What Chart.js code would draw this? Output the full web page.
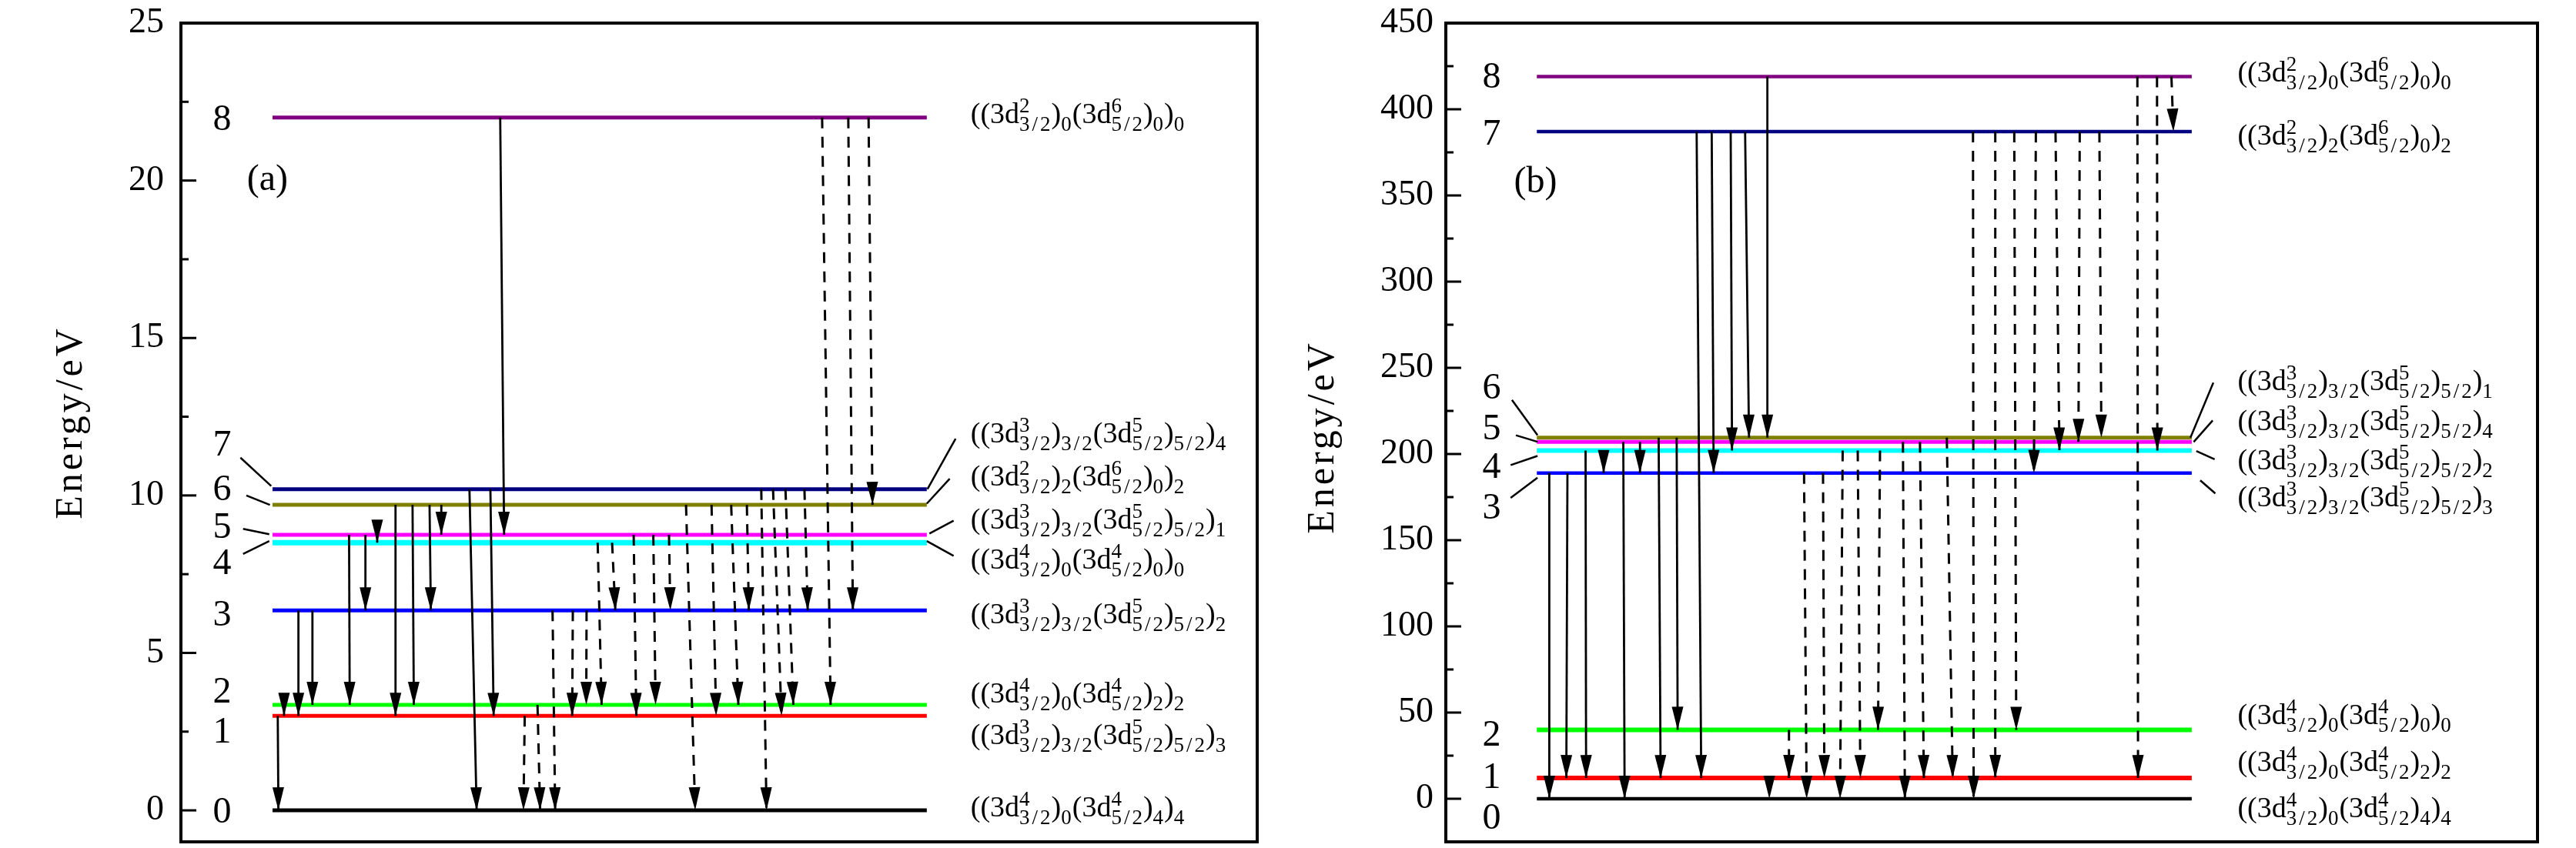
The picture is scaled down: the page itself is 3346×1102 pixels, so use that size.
<!DOCTYPE html>
<html>
<head>
<meta charset="utf-8">
<script src="https://cdn.jsdelivr.net/npm/chart.js@4.4.1/dist/chart.umd.min.js"></script>
<style>
  html, body { margin: 0; padding: 0; background: #fff; }
  #wrap { position: relative; width: 3346px; height: 1102px; }
  canvas { position: absolute; top: 0; }
</style>
</head>
<body>
<div id="wrap">
  <canvas id="panelA" width="1673" height="1102" style="left:0"></canvas>
  <canvas id="panelB" width="1673" height="1102" style="left:1673px"></canvas>
</div>
<script>
// level colours, index = level number 0..8
const levelColors = ['#000000', '#ff0000', '#00ff00', '#0000ff', '#00ffff', '#ff00ff', '#808000', '#000080', '#800080'];

// ---- panel (a) ----
const energyA = [0, 3.0, 3.35, 6.35, 8.5, 8.75, 9.7, 10.2, 22.0];
const stateA = [
  '((3d^{4}_{3/2})_{0}(3d^{4}_{5/2})_{4})_{4}',
  '((3d^{3}_{3/2})_{3/2}(3d^{5}_{5/2})_{5/2})_{3}',
  '((3d^{4}_{3/2})_{0}(3d^{4}_{5/2})_{2})_{2}',
  '((3d^{3}_{3/2})_{3/2}(3d^{5}_{5/2})_{5/2})_{2}',
  '((3d^{4}_{3/2})_{0}(3d^{4}_{5/2})_{0})_{0}',
  '((3d^{3}_{3/2})_{3/2}(3d^{5}_{5/2})_{5/2})_{1}',
  '((3d^{2}_{3/2})_{2}(3d^{6}_{5/2})_{0})_{2}',
  '((3d^{3}_{3/2})_{3/2}(3d^{5}_{5/2})_{5/2})_{4}',
  '((3d^{2}_{3/2})_{0}(3d^{6}_{5/2})_{0})_{0}'
];
// transitions: [from level, to level, x at start, x at end]
const solidA = [
  [2, 1, 1.76, 1.76], [1, 0, 0.8, 0.9], [3, 1, 3.96, 3.96], [3, 2, 6.1, 6.1],
  [5, 2, 11.7, 11.8], [5, 3, 14.2, 14.2], [5, 4, 16.0, 16.0], [6, 1, 18.8, 18.8],
  [6, 2, 21.4, 21.6], [6, 3, 24.0, 24.2], [6, 5, 25.8, 25.8], [7, 0, 30.1, 31.2],
  [7, 1, 33.3, 33.8], [8, 5, 34.8, 35.4]
];
const dashedA = [
  [1, 0, 38.55, 38.35], [2, 0, 40.5, 40.9], [3, 0, 42.8, 43.2], [3, 1, 45.9, 45.8],
  [3, 2, 48.0, 47.95], [4, 2, 49.7, 50.3], [4, 3, 51.9, 52.4], [5, 1, 55.2, 55.6],
  [5, 2, 58.2, 58.55], [5, 3, 60.6, 60.8], [6, 0, 63.2, 64.6], [6, 1, 67.1, 67.8],
  [6, 2, 70.1, 71.2], [6, 3, 72.5, 72.8], [7, 0, 74.7, 75.5], [7, 1, 76.5, 77.8],
  [7, 2, 78.4, 79.6], [7, 3, 81.3, 81.8], [8, 2, 84.0, 85.3], [8, 3, 88.0, 88.7],
  [8, 6, 91.1, 91.7]
];
const tickA = [0, 5, 10, 15, 20, 25];
const minorA = [2.5, 7.5, 12.5, 17.5, 22.5];

// ---- panel (b) ----
const energyB = [0, 12, 40, 189, 202, 207, 209.5, 387, 419];
const stateB = [
  '((3d^{4}_{3/2})_{0}(3d^{4}_{5/2})_{4})_{4}',
  '((3d^{4}_{3/2})_{0}(3d^{4}_{5/2})_{2})_{2}',
  '((3d^{4}_{3/2})_{0}(3d^{4}_{5/2})_{0})_{0}',
  '((3d^{3}_{3/2})_{3/2}(3d^{5}_{5/2})_{5/2})_{3}',
  '((3d^{3}_{3/2})_{3/2}(3d^{5}_{5/2})_{5/2})_{2}',
  '((3d^{3}_{3/2})_{3/2}(3d^{5}_{5/2})_{5/2})_{4}',
  '((3d^{3}_{3/2})_{3/2}(3d^{5}_{5/2})_{5/2})_{1}',
  '((3d^{2}_{3/2})_{2}(3d^{6}_{5/2})_{0})_{2}',
  '((3d^{2}_{3/2})_{0}(3d^{6}_{5/2})_{0})_{0}'
];
const solidB = [
  [3, 0, 1.9, 1.9], [3, 1, 4.67, 4.5], [4, 1, 7.44, 7.52], [4, 3, 10.2, 10.2],
  [5, 0, 13.2, 13.4], [5, 3, 15.75, 15.75], [6, 1, 18.6, 18.9], [6, 2, 21.35, 21.5],
  [7, 1, 24.4, 25.1], [7, 3, 26.7, 27.0], [7, 4, 29.6, 29.8], [7, 6, 31.8, 32.4],
  [8, 6, 35.2, 35.2]
];
const dashedB = [
  [1, 0, 35.5, 35.5], [2, 1, 38.5, 38.5], [3, 0, 40.8, 41.2], [3, 1, 43.7, 43.9],
  [4, 0, 46.7, 46.3], [4, 1, 49.0, 49.4], [4, 2, 52.4, 52.1], [5, 0, 55.9, 56.2],
  [5, 1, 58.5, 59.1], [6, 1, 62.6, 63.5], [7, 0, 66.6, 66.7], [7, 1, 70.0, 70.0],
  [7, 2, 72.9, 73.2], [7, 3, 76.2, 75.9], [7, 4, 79.2, 79.8], [7, 5, 82.9, 82.7],
  [7, 6, 85.9, 86.2], [8, 1, 91.7, 91.8], [8, 4, 94.7, 94.75], [8, 7, 96.9, 97.2]
];
const tickB = [0, 50, 100, 150, 200, 250, 300, 350, 400, 450];
const minorB = [25, 75, 125, 175, 225, 275, 325, 375, 425];

const SERIF = '"Liberation Serif", "DejaVu Serif", serif';
const MAIN = 38, SCRIPT = 27, SUP = 14, SUB = 10, SLASH_PAD = 3;
const HEAD_LEN = 30, HEAD_W = 15;

// layout of the two panels (label anchors in data units)
const layoutA = {
  energy: energyA, state: stateA, solid: solidA, dashed: dashedA, ticks: tickA, minor: minorA,
  xMin: -14.0, xMax: 150.5, yMin: -1, yMax: 25,
  axisWidth: 235, padRight: 40, tickPad: 22,
  levelWidth: [5, 5, 5, 5, 7, 5, 5, 5, 5],
  numX: -7.7, numY: [0, 2.56, 3.83, 6.27, 7.9, 9.06, 10.24, 11.67, 22.0],
  stateX: 106.7, stateY: [0.12, 2.42, 3.75, 6.25, 8.0, 9.27, 10.63, 12.0, 22.15],
  leaders: [
    [-4.9, 11.2, -0.2, 10.3], [-4.0, 10.0, -0.4, 9.7], [-4.5, 8.94, -0.5, 8.77], [-4.5, 8.14, -0.5, 8.55],
    [100.1, 10.2, 104.4, 11.8], [100, 9.74, 103.5, 10.53], [100.4, 8.79, 104.1, 9.2], [100, 8.55, 104.1, 8.08]
  ],
  tag: '(a)', tagPos: [-3.9, 20.0],
  titleX: 93, titleY: 549
};
const layoutB = {
  energy: energyB, state: stateB, solid: solidB, dashed: dashedB, ticks: tickB, minor: minorB,
  xMin: -13.9, xMax: 152.8, yMin: -25, yMax: 450,
  axisWidth: 205, padRight: 50, tickPad: 16,
  levelWidth: [4.5, 6, 6, 4.5, 6, 5, 5, 4.5, 4.5],
  numX: -6.9, numY: [-10, 13.7, 38, 169.9, 193.6, 215.6, 239.3, 386.7, 420],
  stateX: 107.0, stateY: [-5.0, 22.0, 49.1, 175.5, 196.9, 219.8, 242.9, 385.2, 421.7],
  leaders: [
    [-3.8, 231.4, 0.1, 210.9], [-3.2, 210.9, 0.1, 207.1], [-4, 193.6, 0.1, 198.9], [-4, 174.6, 0.1, 186.3],
    [99.8, 209.5, 103.3, 241.4], [100.3, 207, 103.2, 219.5], [100.7, 201.7, 103.5, 196.9], [101.3, 184.7, 103.6, 177.1]
  ],
  tag: '(b)', tagPos: [-3.5, 357.2],
  titleX: 46, titleY: 568
};

function parseState(s) {
  const out = [];
  let buf = '', i = 0;
  while (i < s.length) {
    const c = s[i];
    if (c === '^' || c === '_') {
      if (buf) { out.push({ text: buf }); buf = ''; }
      const end = s.indexOf('}', i);
      const txt = s.slice(i + 2, end);
      let last = out[out.length - 1];
      if (!last || last.text !== undefined) { last = { sup: '', sub: '' }; out.push(last); }
      if (c === '^') last.sup = txt; else last.sub = txt;
      i = end + 1;
    } else { buf += c; i++; }
  }
  if (buf) out.push({ text: buf });
  return out;
}

function spaced(ctx, s, x, y) {
  let cx = x;
  for (const ch of s) {
    if (ch === '/') cx += SLASH_PAD;
    ctx.fillText(ch, cx, y);
    cx += ctx.measureText(ch).width;
    if (ch === '/') cx += SLASH_PAD;
  }
  return cx - x;
}

function drawState(ctx, str, x, yMid) {
  const base = yMid + 0.34 * MAIN;
  let cx = x;
  ctx.textAlign = 'left';
  ctx.textBaseline = 'alphabetic';
  for (const part of parseState(str)) {
    if (part.text !== undefined) {
      ctx.font = MAIN + 'px ' + SERIF;
      ctx.fillText(part.text, cx, base);
      cx += ctx.measureText(part.text).width;
    } else {
      ctx.font = SCRIPT + 'px ' + SERIF;
      const w1 = part.sup ? spaced(ctx, part.sup, cx, base - SUP) : 0;
      const w2 = part.sub ? spaced(ctx, part.sub, cx, base + SUB) : 0;
      cx += Math.max(w1, w2) + 1;
    }
  }
}

function makeDecor(p) {
  return {
    id: 'decor' + p.tag.replace(/\W/g, ''),
    afterDatasetsDraw(chart) {
      const ctx = chart.ctx;
      ctx.save();
      ctx.fillStyle = '#000';
      chart.data.datasets.forEach((ds, i) => {
        if (!ds.isArrow) return;
        const [a, b] = chart.getDatasetMeta(i).data;
        const dx = b.x - a.x, dy = b.y - a.y, len = Math.hypot(dx, dy) || 1;
        const ux = dx / len, uy = dy / len;
        const bx = b.x - ux * HEAD_LEN, by = b.y - uy * HEAD_LEN;
        ctx.beginPath();
        ctx.moveTo(b.x, b.y);
        ctx.lineTo(bx - uy * HEAD_W / 2, by + ux * HEAD_W / 2);
        ctx.lineTo(bx + uy * HEAD_W / 2, by - ux * HEAD_W / 2);
        ctx.closePath();
        ctx.fill();
      });
      ctx.restore();
    },
    afterDraw(chart) {
      const { ctx, chartArea: ca } = chart;
      const xs = chart.scales.x, ys = chart.scales.y;
      ctx.save();
      ctx.strokeStyle = '#000';
      ctx.fillStyle = '#000';
      ctx.lineWidth = 4;
      ctx.strokeRect(ca.left, ca.top, ca.right - ca.left, ca.bottom - ca.top);
      ctx.lineWidth = 3;
      const tick = (v, l) => {
        const py = ys.getPixelForValue(v);
        ctx.beginPath(); ctx.moveTo(ca.left, py); ctx.lineTo(ca.left + l, py); ctx.stroke();
      };
      p.ticks.forEach(v => tick(v, 20));
      p.minor.forEach(v => tick(v, 10));

      // level numbers
      ctx.font = '48px ' + SERIF;
      ctx.textAlign = 'center';
      ctx.textBaseline = 'alphabetic';
      p.numY.forEach((v, k) => {
        ctx.fillText(String(k), xs.getPixelForValue(p.numX), ys.getPixelForValue(v) + 0.34 * 48);
      });
      // state labels
      p.state.forEach((s, k) => drawState(ctx, s, xs.getPixelForValue(p.stateX), ys.getPixelForValue(p.stateY[k])));
      // panel tag
      ctx.font = '48px ' + SERIF;
      ctx.textAlign = 'left';
      ctx.textBaseline = 'middle';
      ctx.fillText(p.tag, xs.getPixelForValue(p.tagPos[0]), ys.getPixelForValue(p.tagPos[1]));
      // axis title
      ctx.translate(p.titleX, p.titleY);
      ctx.rotate(-Math.PI / 2);
      ctx.font = '50px ' + SERIF;
      ctx.letterSpacing = '4px';
      ctx.textAlign = 'center';
      ctx.textBaseline = 'middle';
      ctx.fillText('Energy/eV', 0, 0);
      ctx.restore();
    }
  };
}

function buildPanel(id, p) {
  const levels = p.energy.map((e, k) => ({
    data: [{ x: 0, y: e }, { x: 100, y: e }],
    borderColor: levelColors[k], borderWidth: p.levelWidth[k],
    showLine: true, pointRadius: 0, borderCapStyle: 'butt', order: 2
  }));
  const mkArrow = (t, dashed) => ({
    data: [{ x: t[2], y: p.energy[t[0]] }, { x: t[3], y: p.energy[t[1]] }],
    borderColor: '#000', borderWidth: dashed ? 3 : 2.8, borderDash: dashed ? [14, 11] : [],
    showLine: true, pointRadius: 0, borderCapStyle: 'butt', isArrow: true, order: 0
  });
  const arrows = p.solid.map(t => mkArrow(t, false)).concat(p.dashed.map(t => mkArrow(t, true)));
  const leaders = p.leaders.map(l => ({
    data: [{ x: l[0], y: l[1] }, { x: l[2], y: l[3] }],
    borderColor: '#000', borderWidth: 2.5, showLine: true, pointRadius: 0, order: 1
  }));

  new Chart(document.getElementById(id), {
    type: 'scatter',
    data: { datasets: levels.concat(arrows, leaders) },
    options: {
      responsive: false,
      animation: false,
      devicePixelRatio: 1,
      events: [],
      layout: { padding: { left: 0, right: p.padRight, top: 30, bottom: 8 } },
      plugins: { legend: { display: false }, tooltip: { enabled: false } },
      scales: {
        x: { type: 'linear', display: false, min: p.xMin, max: p.xMax },
        y: {
          type: 'linear', min: p.yMin, max: p.yMax,
          afterBuildTicks: s => { s.ticks = p.ticks.map(v => ({ value: v })); },
          afterFit: s => { s.width = p.axisWidth; s.paddingTop = 0; s.paddingBottom = 0; },
          grid: { display: false, drawTicks: false },
          border: { display: false },
          ticks: { color: '#000', font: { family: SERIF, size: 46 }, padding: p.tickPad }
        }
      }
    },
    plugins: [makeDecor(p)]
  });
}

buildPanel('panelA', layoutA);
buildPanel('panelB', layoutB);
</script>
</body>
</html>
